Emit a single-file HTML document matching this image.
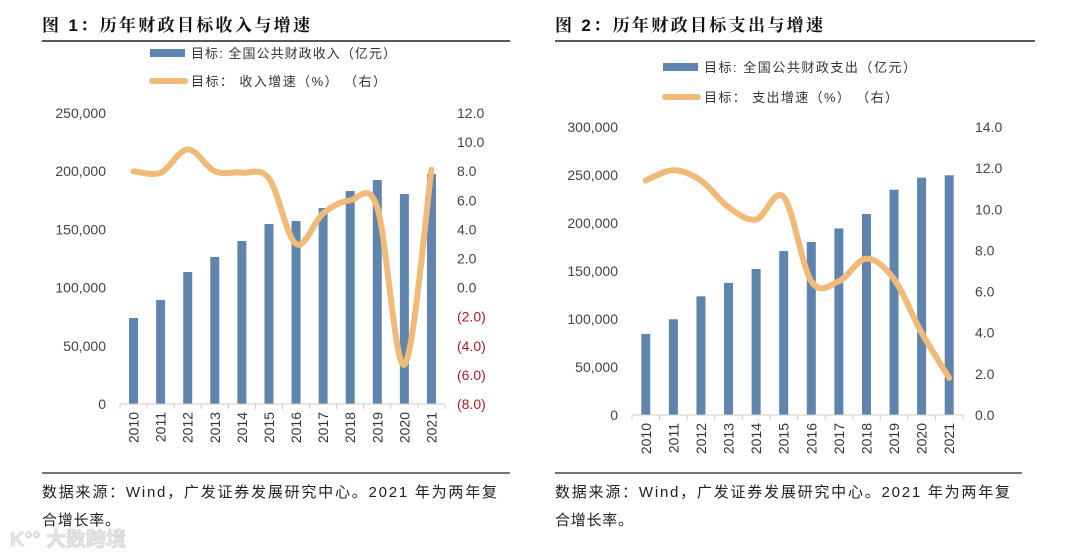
<!DOCTYPE html>
<html><head><meta charset="utf-8"><style>
body{margin:0;background:#fff;width:1078px;height:557px;overflow:hidden;font-family:"Liberation Sans","Noto Sans CJK SC",sans-serif}
svg{position:absolute;left:0;top:0}
</style></head><body>
<svg id="s" width="1078" height="557" xmlns="http://www.w3.org/2000/svg">
<text x="42" y="31" font-size="17" font-weight="bold" fill="#111" textLength="268" lengthAdjust="spacing" font-family="Liberation Sans,Noto Serif CJK SC,serif">图  1：历年财政目标收入与增速</text>
<line x1="42" y1="41" x2="510" y2="41" stroke="#222" stroke-width="1.5"/>
<text x="555" y="31" font-size="17" font-weight="bold" fill="#111" textLength="268" lengthAdjust="spacing" font-family="Liberation Sans,Noto Serif CJK SC,serif">图  2：历年财政目标支出与增速</text>
<line x1="555" y1="41" x2="1035" y2="41" stroke="#222" stroke-width="1.5"/>
<line x1="42" y1="473" x2="510" y2="473" stroke="#222" stroke-width="1.2"/>
<line x1="555" y1="473" x2="1022" y2="473" stroke="#222" stroke-width="1.2"/>
<text x="42" y="497" font-size="15" fill="#222" textLength="455" lengthAdjust="spacing">数据来源：Wind，广发证券发展研究中心。2021 年为两年复</text>
<text x="42" y="525" font-size="15" fill="#222" textLength="78" lengthAdjust="spacing">合增长率。</text>
<text x="555" y="497" font-size="15" fill="#222" textLength="455" lengthAdjust="spacing">数据来源：Wind，广发证券发展研究中心。2021 年为两年复</text>
<text x="555" y="525" font-size="15" fill="#222" textLength="78" lengthAdjust="spacing">合增长率。</text>
<text x="10" y="546" font-size="20" font-weight="bold" fill="#e6e6e6" stroke="#cfcfcf" stroke-width="0.6">K°° 大数跨境</text>
</svg>
<script>
const years=["2010","2011","2012","2013","2014","2015","2016","2017","2018","2019","2020","2021"];
const revenue=[73900,89300,113400,126300,140000,154600,157200,168400,183000,192400,180400,197600];
const revenueGrowth=[8.0,7.9,9.5,8.0,7.9,7.5,3.0,5.1,6.0,5.5,-5.3,8.1];
const spending=[84400,99700,123600,137500,152100,170800,180200,194400,209400,234700,247200,249700];
const spendingGrowth=[11.4,11.9,11.4,10.1,9.5,10.6,6.5,6.5,7.6,6.6,4.0,1.8];
const leftTicks1=[0,50000,100000,150000,200000,250000];
const rightTicks1=[-8,-6,-4,-2,0,2,4,6,8,10,12];
const leftTicks2=[0,50000,100000,150000,200000,250000,300000];
const rightTicks2=[0,2,4,6,8,10,12,14];
const legend1=["目标: 全国公共财政收入（亿元）","目标：  收入增速（%）  （右）"];
const legend2=["目标: 全国公共财政支出（亿元）","目标：  支出增速（%）  （右）"];

const svg=document.getElementById('s');
const NS="http://www.w3.org/2000/svg";
function mk(tag,attrs,parent){const e=document.createElementNS(NS,tag);for(const k in attrs)e.setAttribute(k,attrs[k]);(parent||svg).appendChild(e);return e;}
function fmt(v){return v.toLocaleString('en-US');}
function fmtR(v){return v<0?'('+Math.abs(v).toFixed(1)+')':v.toFixed(1);}

function chart(c){
  const g=mk('g',{});
  
  
  const bw=(c.x1-c.x0)/years.length;
  const xc=i=>c.x0+bw*(i+0.5);
  const yl=v=>c.yb+(c.yt-c.yb)*(v-c.lmin)/(c.lmax-c.lmin);
  const yr=v=>c.yb+(c.yt-c.yb)*(v-c.rmin)/(c.rmax-c.rmin);
  const sw=mk('rect',{x:c.lgx,y:c.lgy-4,width:35,height:8,fill:'#5f84ad'},g);
  
  const t1=mk('text',{x:c.lgx+41,y:c.lgy+5,'font-size':13,fill:'#333',textLength:c.lw[0],lengthAdjust:'spacing'},g);t1.textContent=c.leg[0];
  
  const ls=mk('line',{x1:c.lgx+2,y1:c.lgy+c.lgd,x2:c.lgx+35,y2:c.lgy+c.lgd,stroke:'#f0ba78','stroke-width':6,'stroke-linecap':'round'},g);
  
  const t2=mk('text',{x:c.lgx+41,y:c.lgy+c.lgd+5,'font-size':13,fill:'#333',textLength:c.lw[1],lengthAdjust:'spacing'},g);t2.textContent=c.leg[1];
  
  c.lt.forEach(v=>{const t=mk('text',{x:c.x0-14,y:yl(v)+5,'font-size':14,fill:'#444','text-anchor':'end'},g);t.textContent=fmt(v);
    });
  c.rt.forEach(v=>{const t=mk('text',{x:c.x1+12,y:yr(v)+5,'font-size':14,fill:v<0?'#b0182a':'#444'},g);t.textContent=fmtR(v);
    });
  c.bars.forEach((v,i)=>{const r=mk('rect',{x:xc(i)-4.5,y:yl(v),width:9,height:c.yb-yl(v),fill:'#5f84ad'},g);
    });
  const ax=mk('line',{x1:c.x0,y1:c.yb,x2:c.x1,y2:c.yb,stroke:'#ccc','stroke-width':1},g);
  
  for(let i=0;i<=years.length;i++){const tk=mk('line',{x1:c.x0+bw*i,y1:c.yb,x2:c.x0+bw*i,y2:c.yb+5,stroke:'#ccc'},g);
    }
  years.forEach((y,i)=>{const t=mk('text',{x:0,y:0,'font-size':14,fill:'#333','text-anchor':'end',transform:`translate(${xc(i)+5},${c.yb+8}) rotate(-90)`},g);t.textContent=y;
    });
  const p=c.line.map((v,i)=>[xc(i),yr(v)]);
  let d=`M${p[0][0]},${p[0][1]}`;
  for(let i=0;i<p.length-1;i++){const a=p[i-1]||p[i],b=p[i],e=p[i+1],f=p[i+2]||e;
    d+=` C${b[0]+(e[0]-a[0])/6},${b[1]+(e[1]-a[1])/6} ${e[0]-(f[0]-b[0])/6},${e[1]-(f[1]-b[1])/6} ${e[0]},${e[1]}`;}
  const pl=mk('path',{d:d,fill:'none',stroke:'#f0ba78','stroke-width':6,'stroke-linecap':'round','stroke-linejoin':'round'},g);
  
}
chart({name:'chart1-revenue',x0:120,x1:445,yb:404,yt:113,lmin:0,lmax:250000,rmin:-8,rmax:12,lt:leftTicks1,rt:rightTicks1,bars:revenue,line:revenueGrowth,leg:legend1,lgx:150,lgy:53,lgd:28,lw:[205,195]});
chart({name:'chart2-spending',x0:632,x1:963,yb:415,yt:127,lmin:0,lmax:300000,rmin:0,rmax:14,lt:leftTicks2,rt:rightTicks2,bars:spending,line:spendingGrowth,leg:legend2,lgx:663,lgy:67,lgd:30,lw:[212,194]});
</script>
</body></html>
